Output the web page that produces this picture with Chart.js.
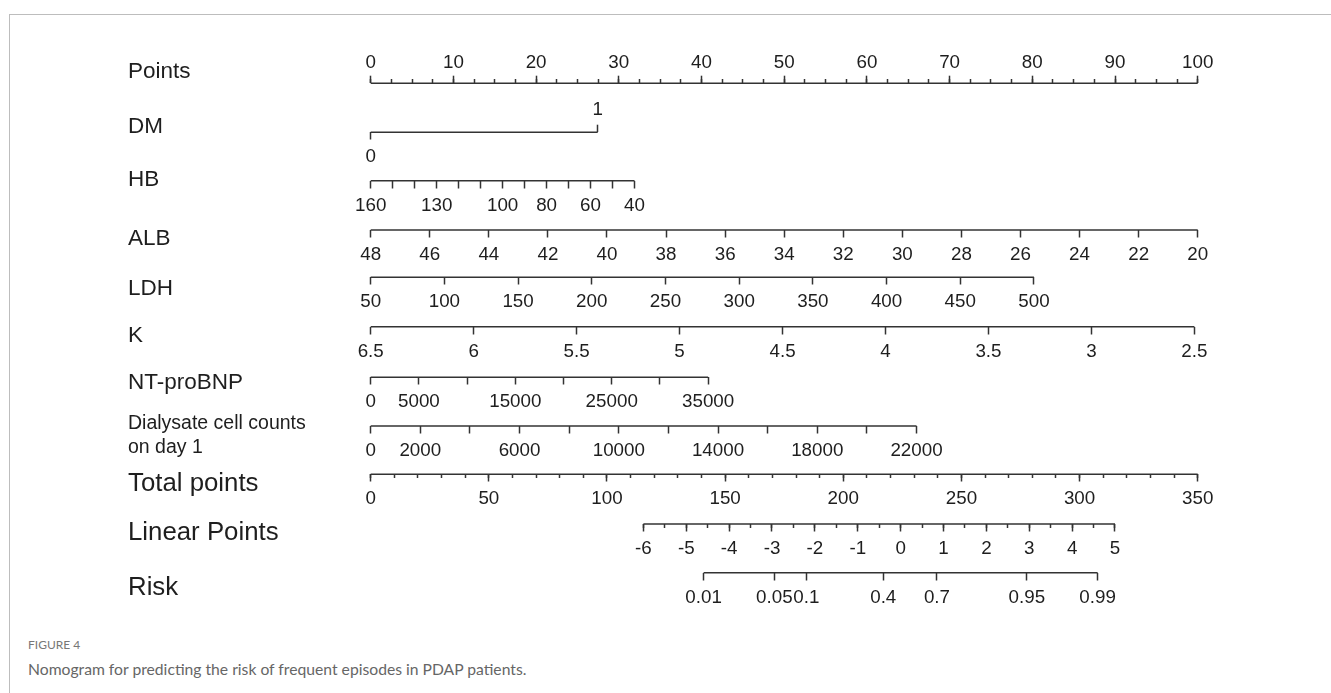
<!DOCTYPE html>
<html lang="en">
<head>
  <meta charset="UTF-8" />
  <meta name="viewport" content="width=device-width, initial-scale=1" />
  <title>Nomogram - frequent episodes in PDAP patients</title>
  <style>
    body {
      margin: 0;
      background-color: #fff;
      font-family: Lato, "Open Sans", sans-serif;
    }
    .frame {
      position: absolute;
      left: 9px;
      top: 14px;
      right: 0;
      bottom: 0;
      border-top: 1px solid #bdbdbd;
      border-left: 1px solid #bdbdbd;
    }
    #wrap {
      position: absolute;
      left: 0;
      top: 0;
      width: 1331px;
      height: 630px;
    }
    .fig {
      position: absolute;
      left: 28px;
      top: 637px;
      font-size: 12px;
      line-height: 16px;
      color: #777;
    }
    .caption {
      position: absolute;
      left: 28px;
      top: 659px;
      font-size: 15.7px;
      line-height: 20px;
      color: #666;
    }
  </style>
  <script src="https://cdn.jsdelivr.net/npm/chart.js"></script>
</head>
<body>
  <div class="frame"></div>
  <div id="wrap"><canvas id="nomogram"></canvas></div>
  <div class="fig">FIGURE 4</div>
  <div class="caption">Nomogram for predicting the risk of frequent episodes in PDAP patients.</div>

  <script>
    // ---- values ----
    const rowNames = ['Points', 'DM', 'HB', 'ALB', 'LDH', 'K', 'NT-proBNP',
      ['Dialysate cell counts', 'on day 1'], 'Total points', 'Linear Points', 'Risk'];

    const pointsMajor = [0, 10, 20, 30, 40, 50, 60, 70, 80, 90, 100];
    const pointsMinor = [0, 2.5, 5, 7.5, 10, 12.5, 15, 17.5, 20, 22.5, 25, 27.5, 30, 32.5, 35, 37.5,
      40, 42.5, 45, 47.5, 50, 52.5, 55, 57.5, 60, 62.5, 65, 67.5, 70, 72.5, 75, 77.5,
      80, 82.5, 85, 87.5, 90, 92.5, 95, 97.5, 100];

    const dmValues = [0, 1];
    const dmPoints = 27.45;      // points for DM = 1

    const hbTicks = [160, 150, 140, 130, 120, 110, 100, 90, 80, 70, 60, 50, 40];
    const hbLabels = [160, 130, 100, 80, 60, 40];
    const hbPoints = 31.9;       // points for HB = 40

    const albTicks = [48, 46, 44, 42, 40, 38, 36, 34, 32, 30, 28, 26, 24, 22, 20];
    const albPoints = 100;       // points for ALB = 20

    const ldhTicks = [50, 100, 150, 200, 250, 300, 350, 400, 450, 500];
    const ldhPoints = 80.2;      // points for LDH = 500

    const kTicks = [6.5, 6, 5.5, 5, 4.5, 4, 3.5, 3, 2.5];
    const kPoints = 99.6;        // points for K = 2.5

    const ntTicks = [0, 5000, 10000, 15000, 20000, 25000, 30000, 35000];
    const ntLabels = [0, 5000, 15000, 25000, 35000];
    const ntPoints = 40.8;       // points for NT-proBNP = 35000

    const dialTicks = [0, 2000, 4000, 6000, 8000, 10000, 12000, 14000, 16000, 18000, 20000, 22000];
    const dialLabels = [0, 2000, 6000, 10000, 14000, 18000, 22000];
    const dialPoints = 66.0;     // points for 22000 cells

    const totalMajor = [0, 50, 100, 150, 200, 250, 300, 350];
    const totalMinor = [0, 10, 20, 30, 40, 50, 60, 70, 80, 90, 100, 110, 120, 130, 140, 150, 160, 170,
      180, 190, 200, 210, 220, 230, 240, 250, 260, 270, 280, 290, 300, 310, 320, 330, 340, 350];

    const linearMajor = [-6, -5, -4, -3, -2, -1, 0, 1, 2, 3, 4, 5];
    const linearMinor = [-6, -5.5, -5, -4.5, -4, -3.5, -3, -2.5, -2, -1.5, -1, -0.5, 0, 0.5,
      1, 1.5, 2, 2.5, 3, 3.5, 4, 4.5, 5];
    const linearAtTotal = [115.4, 315.0];   // total points where linear = -6 and 5

    const riskLabels = [0.01, 0.05, 0.1, 0.4, 0.7, 0.95, 0.99];

    // ---- layout ----
    const FONT = "'Liberation Sans', Arial, Helvetica, sans-serif";
    const LINE = '#333';
    const TEXT = '#1e1e1e';
    const TOP = 40, BOTTOM = 620, HEIGHT = 630;
    const ROW_Y = [83.3, 132.3, 180.7, 230, 277.3, 326.7, 377.3, 426, 474.3, 524, 572.7];
    const NAME_Y = [72, 127, 180, 239, 288.6, 335.5, 383, 435.5, 484, 533, 588];
    const NAME_SIZE = [22.5, 22.5, 22.5, 22.5, 22.5, 22.5, 22.5, 19.5, 25.8, 25.8, 25.8];
    const TICK_SIZE = 18.8;

    // axis range so that v0 sits at p0 and v1 at p1 on a 0..full points line
    function span(v0, v1, p0, p1, full) {
      const k = (v1 - v0) / (p1 - p0);
      const a = v0 - k * p0;
      const b = v0 + k * (full - p0);
      return a < b ? { min: a, max: b, reverse: false } : { min: b, max: a, reverse: true };
    }

    const scales = {
      x: { type: 'linear', display: false, min: 0, max: 100 },
      y: {
        type: 'linear',
        position: 'left',
        min: TOP,
        max: BOTTOM,
        reverse: true,
        border: { display: false },
        grid: { display: false },
        ticks: {
          autoSkip: false,
          crossAlign: 'far',
          padding: 0,
          color: TEXT,
          font: ctx => ({ family: FONT, size: NAME_SIZE[ctx.index] }),
          callback: (v, i) => rowNames[i]
        },
        afterBuildTicks: s => { s.ticks = NAME_Y.map(v => ({ value: v })); },
        afterFit: s => { s.width = 242.7; s.paddingTop = 0; s.paddingBottom = 0; }
      }
    };
    const datasets = [];

    function addAxis(id, row, rng, ticks, labelOf, opt = {}) {
      scales[id] = {
        type: 'linear',
        axis: 'x',
        position: { y: ROW_Y[row] },
        min: rng.min,
        max: rng.max,
        reverse: rng.reverse,
        border: { display: false },
        grid: {
          display: true,
          drawOnChartArea: false,
          drawTicks: true,
          tickLength: opt.tick !== undefined ? opt.tick : 7.5,
          tickColor: LINE,
          tickWidth: 1.5
        },
        ticks: {
          display: !!labelOf,
          autoSkip: false,
          minRotation: 0,
          maxRotation: 0,
          padding: opt.pad !== undefined ? opt.pad : 6,
          color: TEXT,
          font: { family: FONT, size: TICK_SIZE },
          callback: (v, i) => (labelOf ? labelOf(i) : '')
        },
        afterBuildTicks: s => { s.ticks = ticks.map(v => ({ value: v })); },
        afterFit: s => { s.paddingLeft = 0; s.paddingRight = 0; }
      };
    }

    function addLine(id, row, a, b) {
      datasets.push({
        xAxisID: id,
        yAxisID: 'y',
        data: [{ x: a, y: ROW_Y[row] }, { x: b, y: ROW_Y[row] }],
        showLine: true,
        borderColor: LINE,
        borderWidth: 1.5,
        pointRadius: 0,
        clip: false
      });
    }

    const pick = (ticks, labels) => i => (labels.includes(ticks[i]) ? String(ticks[i]) : '');
    const all = ticks => i => String(ticks[i]);
    const last = arr => arr[arr.length - 1];

    // Points
    const ptsRange = span(0, 100, 0, 100, 100);
    addAxis('xPts', 0, ptsRange, pointsMajor, all(pointsMajor), { tick: -7.3, pad: -24.3 });
    addAxis('xPtsMinor', 0, ptsRange, pointsMinor, null, { tick: -4 });
    addLine('xPts', 0, pointsMajor[0], last(pointsMajor));

    // DM: 0 below, 1 above
    const dmRange = span(dmValues[0], dmValues[1], 0, dmPoints, 100);
    addAxis('xDM0', 1, dmRange, [dmValues[0]], () => String(dmValues[0]));
    addAxis('xDM1', 1, dmRange, [dmValues[1]], () => String(dmValues[1]), { tick: -7.3, pad: -26.5 });
    addLine('xDM0', 1, dmValues[0], dmValues[1]);

    // continuous predictors
    const predictors = [
      ['xHB', 2, hbTicks, hbPoints, pick(hbTicks, hbLabels)],
      ['xALB', 3, albTicks, albPoints, all(albTicks)],
      ['xLDH', 4, ldhTicks, ldhPoints, all(ldhTicks)],
      ['xK', 5, kTicks, kPoints, all(kTicks)],
      ['xNT', 6, ntTicks, ntPoints, pick(ntTicks, ntLabels)],
      ['xDial', 7, dialTicks, dialPoints, pick(dialTicks, dialLabels)]
    ];
    predictors.forEach(([id, row, ticks, pts, labelOf]) => {
      addAxis(id, row, span(ticks[0], last(ticks), 0, pts, 100), ticks, labelOf);
      addLine(id, row, ticks[0], last(ticks));
    });

    // Total points
    const totRange = span(totalMajor[0], last(totalMajor), 0, 100, 100);
    addAxis('xTot', 8, totRange, totalMajor, all(totalMajor));
    addAxis('xTotMinor', 8, totRange, totalMinor, null, { tick: 4 });
    addLine('xTot', 8, totalMajor[0], last(totalMajor));

    // Linear predictor
    const linRange = span(linearMajor[0], last(linearMajor), linearAtTotal[0], linearAtTotal[1], last(totalMajor));
    addAxis('xLin', 9, linRange, linearMajor, all(linearMajor));
    addAxis('xLinMinor', 9, linRange, linearMinor, null, { tick: 4 });
    addLine('xLin', 9, linearMajor[0], last(linearMajor));

    // Risk, placed on the linear predictor via logit
    const riskTicks = riskLabels.map(p => Math.log(p / (1 - p)));
    addAxis('xRisk', 10, linRange, riskTicks, i => String(riskLabels[i]));
    addLine('xRisk', 10, riskTicks[0], last(riskTicks));

    new Chart(document.getElementById('nomogram'), {
      type: 'scatter',
      data: { datasets: datasets },
      options: {
        responsive: true,
        maintainAspectRatio: false,
        animation: false,
        events: [],
        layout: {
          autoPadding: false,
          padding: { left: 128, right: 1331 - 1197.7, top: TOP, bottom: HEIGHT - BOTTOM }
        },
        scales: scales,
        plugins: {
          legend: { display: false },
          tooltip: { enabled: false }
        }
      }
    });
  </script>
</body>
</html>
